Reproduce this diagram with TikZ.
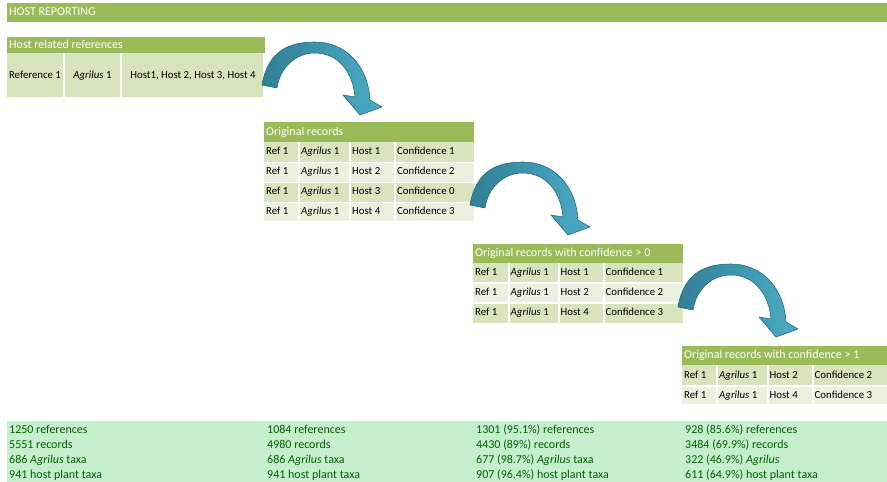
\documentclass[tikz,border=0pt]{standalone}
\usepackage{fontspec}
\setmainfont{Carlito}
\definecolor{hdrgreen}{RGB}{155,187,89}
\definecolor{celldk}{RGB}{216,228,188}
\definecolor{celllt}{RGB}{235,241,222}
\definecolor{bandgreen}{RGB}{198,239,206}
\definecolor{bandtext}{RGB}{0,97,0}
\definecolor{arrowdk}{RGB}{49,128,150}
\definecolor{arrowlt}{RGB}{75,172,198}
\definecolor{arrowline}{RGB}{40,105,125}
\begin{document}
\begin{tikzpicture}[x=1pt,y=-1pt,
  hdrtext/.style={anchor=west,inner sep=0pt,text=white,font=\fontsize{12}{14}\selectfont,text height=8.5pt,text depth=2.5pt},
  celltext/.style={anchor=west,inner sep=0pt,text=black,font=\fontsize{10.8}{13}\selectfont,text height=7.6pt,text depth=2.3pt},
  ctrtext/.style={celltext,anchor=center},
  bandtxt/.style={anchor=west,inner sep=0pt,text=bandtext,font=\fontsize{12}{14}\selectfont,text height=8.5pt,text depth=2.5pt},
  gap/.style={draw=white,line width=2pt},
  bentarrow/.pic={
    \path[draw=arrowline,line width=0.6pt,left color=arrowdk,right color=arrowlt,line join=round]
      (0,0) .. controls (6,-35) and (28,-43) .. (53,-43)
      .. controls (83,-43) and (106,-20) .. (108,15)
      -- (120,22) -- (98,30) -- (81,10) -- (93,12)
      .. controls (91,-13) and (76,-32) .. (53,-32)
      .. controls (33,-32) and (18,-17) .. (15,3) -- cycle;
  }]
\useasboundingbox (0,0) rectangle (887,482);

% title bar
\fill[hdrgreen] (7,3) rectangle (887,22);
\node[hdrtext] (title) at (9,12.5) {HOST REPORTING};

% table 1
\fill[hdrgreen] (7,37) rectangle (265,53);
\fill[celldk] (7,53) rectangle (263,97);
\draw[gap] (64,53) -- (64,97) (121,53) -- (121,97);
\node[hdrtext] (t1h) at (9,45) {Host related references};
\node[ctrtext] (t1a) at (35,75.5) {Reference 1};
\node[ctrtext] (t1b) at (92.5,75.5) {\itshape Agrilus\upshape{} 1};
\node[ctrtext] (t1c) at (193,75.5) {Host1, Host 2, Host 3, Host 4};

% table 2
\fill[hdrgreen] (264,122) rectangle (474,142);
\fill[celldk] (264,142) rectangle (474,161.5);
\fill[celllt] (264,162.8) rectangle (474,181.8);
\fill[celldk] (264,183) rectangle (474,201.6);
\fill[celllt] (264,202.8) rectangle (474,221);
\draw[gap] (299,142) -- (299,221) (350,142) -- (350,221) (395,142) -- (395,221);
\node[hdrtext] (t2h) at (266,132) {Original records};
\foreach \r/\yy/\h/\c in {1/151.8/1/1,2/172.3/2/2,3/192.3/3/0,4/212/4/3}{
  \node[celltext] (t2r\r a) at (266,\yy) {Ref 1};
  \node[celltext] (t2r\r b) at (301,\yy) {\itshape Agrilus\upshape{} 1};
  \node[celltext] (t2r\r c) at (352,\yy) {Host \h};
  \node[celltext] (t2r\r d) at (397,\yy) {Confidence \c};
}

% table 3
\fill[hdrgreen] (473,244) rectangle (683,263);
\fill[celldk] (473,263) rectangle (683,282);
\fill[celllt] (473,283.5) rectangle (683,302);
\fill[celldk] (473,303.5) rectangle (683,323);
\draw[gap] (508.5,263) -- (508.5,323) (558.5,263) -- (558.5,323) (604,263) -- (604,323);
\node[hdrtext] (t3h) at (475,253.5) {Original records with confidence > 0};
\foreach \r/\yy/\h/\c in {1/273/1/1,2/293/2/2,3/313.3/4/3}{
  \node[celltext] (t3r\r a) at (475,\yy) {Ref 1};
  \node[celltext] (t3r\r b) at (510.5,\yy) {\itshape Agrilus\upshape{} 1};
  \node[celltext] (t3r\r c) at (560.5,\yy) {Host \h};
  \node[celltext] (t3r\r d) at (605.5,\yy) {Confidence \c};
}

% table 4
\fill[hdrgreen] (682,346) rectangle (887,365);
\fill[celldk] (682,365) rectangle (887,385);
\fill[celllt] (682,386.5) rectangle (887,404);
\draw[gap] (717.3,365) -- (717.3,404) (767.6,365) -- (767.6,404) (812.7,365) -- (812.7,404);
\node[hdrtext] (t4h) at (684,355.5) {Original records with confidence > 1};
\foreach \r/\yy/\h/\c in {1/375.5/2/2,2/395.5/4/3}{
  \node[celltext] (t4r\r a) at (684,\yy) {Ref 1};
  \node[celltext] (t4r\r b) at (719,\yy) {\itshape Agrilus\upshape{} 1};
  \node[celltext] (t4r\r c) at (769.5,\yy) {Host \h};
  \node[celltext] (t4r\r d) at (814.5,\yy) {Confidence \c};
}

% arrows
\coordinate (a1) at (262,85);
\coordinate (a2) at (470,205);
\coordinate (a3) at (678,307);
\pic at (a1) {bentarrow};
\pic at (a2) {bentarrow};
\pic at (a3) {bentarrow};

% bottom band
\fill[bandgreen] (7,421) rectangle (887,482);
\node[bandtxt] (s1a) at (9,430) {1250 references};
\node[bandtxt] (s1b) at (9,445) {5551 records};
\node[bandtxt] (s1c) at (9,460) {686 \itshape Agrilus\upshape{} taxa};
\node[bandtxt] (s1d) at (9,475) {941 host plant taxa};
\node[bandtxt] (s2a) at (267,430) {1084 references};
\node[bandtxt] (s2b) at (267,445) {4980 records};
\node[bandtxt] (s2c) at (267,460) {686 \itshape Agrilus\upshape{} taxa};
\node[bandtxt] (s2d) at (267,475) {941 host plant taxa};
\node[bandtxt] (s3a) at (476,430) {1301 (95.1\%) references};
\node[bandtxt] (s3b) at (476,445) {4430 (89\%) records};
\node[bandtxt] (s3c) at (476,460) {677 (98.7\%) \itshape Agrilus\upshape{} taxa};
\node[bandtxt] (s3d) at (476,475) {907 (96.4\%) host plant taxa};
\node[bandtxt] (s4a) at (685,430) {928 (85.6\%) references};
\node[bandtxt] (s4b) at (685,445) {3484 (69.9\%) records};
\node[bandtxt] (s4c) at (685,460) {322 (46.9\%) \itshape Agrilus};
\node[bandtxt] (s4d) at (685,475) {611 (64.9\%) host plant taxa};
\end{tikzpicture}
\end{document}
